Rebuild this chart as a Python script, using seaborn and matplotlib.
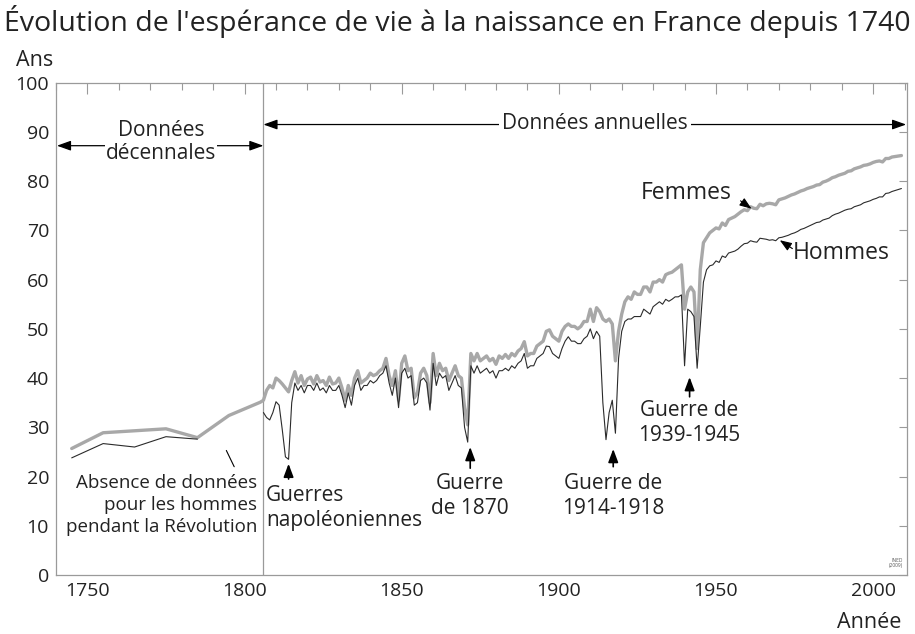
import numpy as np
import pandas as pd
import seaborn as sns
import matplotlib.pyplot as plt

# decennial estimates (plotted at mid-decade), 1745-1805
annees_dec = [1745, 1755, 1765, 1775, 1785, 1795, 1805]
femmes_dec = [25.7, 28.9, 29.3, 29.7, 27.9, 32.4, 35.1]
hommes_dec = [23.8, 26.7, 26.0, 28.1, 27.6]   # no data for men during the Revolution

# annual series 1806-2009
annees = list(range(1806, 2010))
femmes = [
    35.5, 37.5, 38.5, 38.0, 40.0, 39.5, 38.8, 38.0, 37.2, 39.5,   # 1806
    41.3, 39.0, 40.5, 38.5, 39.8, 40.2, 38.8, 40.5, 39.2, 39.5,   # 1816
    38.5, 40.2, 38.8, 39.0, 40.0, 38.0, 35.5, 38.5, 36.5, 40.0,   # 1826
    41.5, 39.0, 39.5, 40.0, 41.0, 40.5, 40.8, 41.5, 42.0, 44.0,   # 1836
    40.5, 38.5, 41.5, 35.5, 43.0, 44.5, 41.5, 42.0, 36.0, 37.0,   # 1846
    41.0, 42.0, 40.5, 35.0, 45.0, 40.5, 43.0, 41.5, 42.0, 39.5,   # 1856
    41.0, 42.5, 40.5, 40.0, 34.0, 30.5, 45.0, 43.5, 45.0, 43.5,   # 1866
    44.0, 44.5, 43.5, 44.0, 42.8, 44.5, 44.0, 44.8, 44.0, 45.0,   # 1876
    44.5, 45.5, 46.0, 47.4, 44.5, 45.0, 45.0, 46.5, 47.0, 47.5,   # 1886
    49.5, 49.8, 48.5, 48.0, 47.5, 49.5, 50.5, 51.0, 50.5, 50.5,   # 1896
    50.0, 50.5, 51.5, 51.5, 54.0, 51.5, 54.3, 53.5, 52.0, 51.5,   # 1906
    52.0, 51.0, 43.5, 49.5, 53.0, 55.5, 56.5, 56.0, 57.5, 57.0,   # 1916
    57.0, 58.5, 58.5, 57.5, 59.5, 59.5, 60.0, 59.5, 61.0, 61.3,   # 1926
    61.5, 62.0, 62.5, 63.0, 54.0, 57.5, 58.5, 57.5, 46.0, 62.0,   # 1936
    67.5, 68.5, 69.5, 70.0, 70.5, 70.3, 71.5, 71.0, 72.2, 72.5,   # 1946
    72.8, 73.3, 73.8, 74.2, 74.0, 74.8, 74.5, 74.4, 75.3, 75.0,   # 1956
    75.4, 75.5, 75.4, 75.2, 76.2, 76.4, 76.6, 76.9, 77.2, 77.4,   # 1966
    77.7, 78.0, 78.2, 78.5, 78.7, 78.9, 79.2, 79.3, 79.8, 80.0,   # 1976
    80.3, 80.7, 80.9, 81.2, 81.4, 81.6, 82.0, 82.1, 82.5, 82.7,   # 1986
    82.9, 83.2, 83.3, 83.5, 83.8, 84.0, 84.1, 83.9, 84.6, 84.6,   # 1996
    84.9, 85.0, 85.1, 85.2,                                       # 2006
]
hommes = [
    33.0, 32.0, 31.5, 33.0, 35.2, 34.5, 29.5, 24.0, 23.5, 35.0,   # 1806
    39.0, 37.5, 38.5, 37.0, 38.5, 38.5, 37.5, 39.0, 37.5, 38.0,   # 1816
    37.0, 38.5, 37.5, 37.5, 38.5, 36.5, 34.0, 37.0, 34.5, 38.5,   # 1826
    40.0, 37.5, 38.5, 38.5, 39.5, 39.0, 39.5, 40.5, 41.0, 42.5,   # 1836
    39.0, 36.5, 40.0, 34.0, 41.0, 42.0, 40.0, 40.5, 34.5, 35.0,   # 1846
    39.5, 40.0, 39.0, 33.5, 43.0, 38.5, 41.0, 40.0, 40.5, 37.5,   # 1856
    39.0, 40.5, 38.5, 38.0, 30.0, 27.0, 42.5, 41.0, 42.5, 41.0,   # 1866
    41.5, 42.0, 41.0, 41.5, 40.0, 41.5, 41.5, 42.0, 41.5, 42.5,   # 1876
    42.0, 43.0, 43.5, 45.0, 42.0, 42.5, 42.5, 44.0, 44.5, 45.0,   # 1886
    46.5, 46.4, 45.0, 44.5, 44.0, 46.0, 47.5, 48.4, 47.5, 47.5,   # 1896
    47.0, 47.0, 48.0, 48.5, 50.0, 48.0, 49.5, 48.5, 35.0, 27.5,   # 1906
    33.0, 35.5, 28.8, 44.0, 49.5, 51.5, 52.0, 52.0, 52.5, 52.5,   # 1916
    52.5, 54.0, 53.5, 53.0, 54.5, 55.0, 55.5, 55.0, 56.0, 55.6,   # 1926
    56.0, 56.5, 56.5, 56.9, 42.5, 54.0, 53.5, 52.5, 42.0, 50.5,   # 1936
    59.5, 62.0, 62.8, 63.0, 63.8, 63.5, 64.8, 64.5, 65.4, 65.6,   # 1946
    65.8, 66.2, 66.8, 67.3, 67.4, 67.9, 67.7, 67.6, 68.4, 68.3,   # 1956
    68.2, 68.0, 68.1, 67.9, 68.5, 68.6, 68.8, 69.0, 69.3, 69.5,   # 1966
    69.8, 70.2, 70.4, 70.7, 71.0, 71.3, 71.6, 71.7, 72.1, 72.3,   # 1976
    72.5, 73.0, 73.3, 73.5, 73.8, 74.1, 74.3, 74.4, 74.8, 75.0,   # 1986
    75.2, 75.6, 75.8, 76.0, 76.3, 76.5, 76.8, 76.8, 77.5, 77.6,   # 1996
    77.9, 78.1, 78.3, 78.5,                                       # 2006
]

gris = '#a8a8a8'
noir = '#2b2b2b'
texte = '#222222'

sns.set_theme(style='white')
plt.rcParams['font.family'] = ['Open Sans', 'DejaVu Sans']
plt.rcParams['text.color'] = texte

fig, ax = plt.subplots(figsize=(9.15, 6.34), dpi=100)
fig.subplots_adjust(left=0.0612, right=0.991, top=0.8696, bottom=0.093)

df_f = pd.DataFrame({'annee': annees_dec + annees, 'esp': femmes_dec + femmes})
df_h_dec = pd.DataFrame({'annee': annees_dec[:len(hommes_dec)], 'esp': hommes_dec})
df_h = pd.DataFrame({'annee': annees, 'esp': hommes})

sns.lineplot(data=df_f, x='annee', y='esp', color=gris, linewidth=2.4, ax=ax, zorder=2)
sns.lineplot(data=df_h_dec, x='annee', y='esp', color=noir, linewidth=0.8, ax=ax, zorder=3)
sns.lineplot(data=df_h, x='annee', y='esp', color=noir, linewidth=0.8, ax=ax, zorder=3)

ax.set_xlim(1740, 2010.7)
ax.set_ylim(0, 100)
ax.set_xticks(range(1750, 2001, 50))
ax.set_xticks(range(1740, 2011, 10), minor=True)
ax.set_yticks(range(0, 101, 10))
ax.set_xlabel('')
ax.set_ylabel('')
ax.tick_params(axis='both', which='both', direction='in', top=True, right=True,
               color='#9a9a9a', width=0.8, labelsize=14, labelcolor=texte)
ax.tick_params(axis='x', which='major', length=8, pad=5)
ax.tick_params(axis='x', which='minor', length=5)
ax.tick_params(axis='y', which='major', length=6, pad=5)
for s in ax.spines.values():
    s.set_color('#9a9a9a')
    s.set_linewidth(0.9)

# separation decennial / annual data
ax.axvline(1806, color='#9a9a9a', linewidth=0.9, zorder=1)

fleche = dict(arrowstyle='<|-|>,head_length=0.7,head_width=0.25', color='black',
              lw=0.9, shrinkA=0, shrinkB=0, mutation_scale=12)
ax.annotate('', xy=(1740.3, 87.2), xytext=(1806, 87.2), arrowprops=fleche)
ax.annotate('', xy=(1806, 91.5), xytext=(2010.5, 91.5), arrowprops=fleche)
ax.text(1773.5, 88.0, 'Données\ndécennales', ha='center', va='center', fontsize=15,
        linespacing=1.15, bbox=dict(facecolor='white', edgecolor='none', pad=0.5))
ax.text(1911.5, 91.8, 'Données annuelles', ha='center', va='center', fontsize=15,
        bbox=dict(facecolor='white', edgecolor='none', pad=2))

petite = dict(arrowstyle='-|>,head_length=0.8,head_width=0.3', color='black',
              lw=1.2, shrinkA=0, shrinkB=0, mutation_scale=10)
ax.annotate('', xy=(1814, 22.6), xytext=(1814, 19.5), arrowprops=petite)
ax.annotate('', xy=(1871.8, 26.0), xytext=(1871.8, 21.7), arrowprops=petite)
ax.annotate('', xy=(1917.3, 25.6), xytext=(1917.3, 22.0), arrowprops=petite)
ax.annotate('', xy=(1941.6, 40.2), xytext=(1941.6, 36.2), arrowprops=petite)

ax.text(1806.8, 13.6, 'Guerres\nnapoléoniennes', ha='left', va='center', fontsize=15, linespacing=1.25)
ax.text(1871.8, 16.0, 'Guerre\nde 1870', ha='center', va='center', fontsize=15, linespacing=1.25)
ax.text(1917.3, 16.0, 'Guerre de\n1914-1918', ha='center', va='center', fontsize=15, linespacing=1.25)
ax.text(1941.6, 30.8, 'Guerre de\n1939-1945', ha='center', va='center', fontsize=15, linespacing=1.25)
ax.text(1804, 14.2, 'Absence de données\npour les hommes\npendant la Révolution',
        ha='right', va='center', fontsize=13.5, linespacing=1.3)
ax.plot([1794.2, 1796.7], [25.3, 22.0], color='black', linewidth=0.8)

ax.text(1940.6, 77.6, 'Femmes', ha='center', va='center', fontsize=16.5)
ax.annotate('', xy=(1961.3, 74.4), xytext=(1957.8, 76.0), arrowprops=dict(
    arrowstyle='-|>,head_length=0.8,head_width=0.3', color='black', lw=0.8,
    shrinkA=0, shrinkB=0, mutation_scale=9))
ax.text(1989.8, 65.4, 'Hommes', ha='center', va='center', fontsize=16.5)
ax.annotate('', xy=(1970.3, 68.0), xytext=(1974.3, 66.3), arrowprops=dict(
    arrowstyle='-|>,head_length=0.8,head_width=0.3', color='black', lw=0.8,
    shrinkA=0, shrinkB=0, mutation_scale=9))

ax.text(2009.5, 2.4, 'INED\n(2009)', ha='right', va='center', fontsize=3.5,
        linespacing=0.9, color='#555555')

fig.text(0.5, 0.966, "Évolution de l'espérance de vie à la naissance en France depuis 1740",
         ha='center', va='center', fontsize=20.5)
fig.text(35 / 915, 1 - 60 / 634, 'Ans', ha='center', va='center', fontsize=15.5)
fig.text(869 / 915, 1 - 622 / 634, 'Année', ha='center', va='center', fontsize=15.5)

fig.savefig('out.png', dpi=100)
